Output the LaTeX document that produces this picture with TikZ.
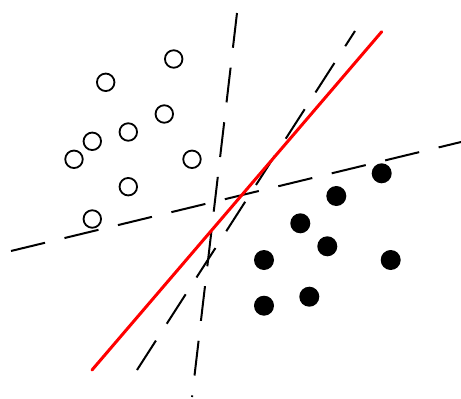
\documentclass[tikz,border=0pt]{standalone}
\usepackage{tikz}

\begin{document}
\begin{tikzpicture}[x=1pt,y=-1pt]
\tikzset{white dot/.style={draw,circle,line width=1.8pt,inner sep=0pt,minimum size=17.5pt},
black dot/.style={circle,fill=black,inner sep=0pt,minimum size=20pt},
cut/.style={line width=2pt,dash pattern=on 35pt off 20pt}}
\useasboundingbox (0,0) rectangle (461,399);

% ends of the separating lines
\coordinate (a1) at (237,13);
\coordinate (a2) at (192,397);
\coordinate (b1) at (137,370);
\coordinate (b2) at (355,31);
\coordinate (c1) at (11,251);
\coordinate (c2) at (461,142);
\coordinate (r1) at (92,370);
\coordinate (r2) at (381.7,31.7);

\draw[cut] (a1) -- (a2);
\draw[cut] (b1) -- (b2);
\draw[cut] (c1) -- (c2);
\draw[red,line width=3pt,line cap=round] (r1) -- (r2);

% first class
\node (w1) at (105.7,82.3) [white dot] {};
\node (w2) at (173.7,59) [white dot] {};
\node (w3) at (128.3,132) [white dot] {};
\node (w4) at (92.3,141.3) [white dot] {};
\node (w5) at (164.3,114) [white dot] {};
\node (w6) at (74,159.3) [white dot] {};
\node (w7) at (192,159.3) [white dot] {};
\node (w8) at (128.3,186.7) [white dot] {};
\node (w9) at (92.3,219) [white dot] {};

% second class
\node (k1) at (381.7,173.3) [black dot] {};
\node (k2) at (336.3,196) [black dot] {};
\node (k3) at (300.3,223.3) [black dot] {};
\node (k4) at (327.3,246.3) [black dot] {};
\node (k5) at (264,260) [black dot] {};
\node (k6) at (390.7,260) [black dot] {};
\node (k7) at (309.3,296.7) [black dot] {};
\node (k8) at (264,305.7) [black dot] {};
\end{tikzpicture}
\end{document}
